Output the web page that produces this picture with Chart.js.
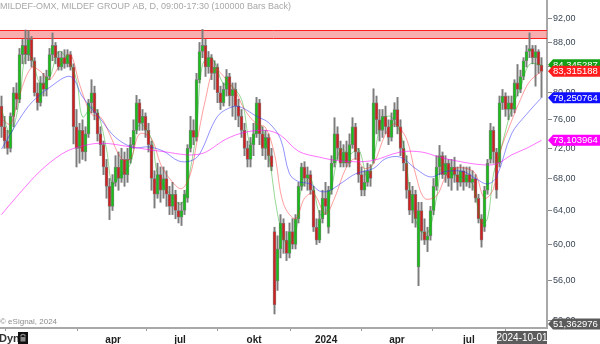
<!DOCTYPE html>
<html><head><meta charset="utf-8">
<script src="https://cdn.jsdelivr.net/npm/chart.js@4.4.1/dist/chart.umd.min.js"></script>
<style>html,body{margin:0;padding:0;background:#fff;}#wrap{position:relative;width:600px;height:344px;}</style>
</head><body><div id="wrap"><canvas id="c" width="600" height="344"></canvas></div>
<script>
// ---- data (bar index = trading period, left to right) ----
const opens = [78,75,73,72,76.5,80,79,86,87.5,86,88.5,85,80,78.5,81.5,80.5,82.5,86,87.5,85.5,84,85.5,84.5,86,84,75,72,74.5,71.5,74,78.5,80,77,74,72.5,69.5,67,64.5,67.5,69.5,68,70.5,68.5,70.5,72.5,74.5,78.5,75.5,76.5,74.5,72.5,68,66,68.5,66.5,68,66,64.5,66,64,63.2,64,65.5,72,74.5,73.5,82,86.5,87.5,84,85.5,83,84,80,78.5,80.5,82.5,79.5,80.5,78,76.5,74.5,72,70.5,72.5,74,78.5,74,72,73.5,71,61.5,56,59.5,62.5,60.5,59,61.5,60,63,67,69.5,68,68.5,66.5,62,60.5,63,65.5,62,66.5,70,74,72,70,71.5,70,72.5,75,71.5,68.5,66.5,67.5,69,70.5,78.5,76,74.5,76.5,75,73.5,76,77.5,75,72,70,66.5,64,66,57.5,64,61.5,60.5,61,64,67,69.5,71,68.5,70,68,69.5,68.5,67.5,69,67.5,68.5,67.5,68,65.5,63,62,66.5,70.5,74.5,71.5,70,78.5,79.5,77.5,78.5,77.5,81.5,80.5,82.5,85,86.5,87,85.5,86.5,84.3];
const highs = [79.5,76.5,74.5,77,80.8,81.5,87,88.5,90.1,90,89,85.5,81.5,82.5,83,83.5,87,89.6,88,86.5,86.5,86.8,86.8,86.5,84.5,77.5,75.5,76,75,79,82,81,77.5,75,73,70.5,68,68.5,71,71.5,72,71.5,72,73.5,76,79.6,79,77.5,77,75.5,73,69,70,69.5,69.5,69,67,67.5,66.5,65,65,66.5,72.5,76.5,76,83,88,90.2,88.5,86.5,86,85,84.5,81,81.5,83.6,83,81.5,81.5,79,77.5,75.5,73,73.5,75.5,79.3,79,75,74.5,74,72,62,61,63.5,63,61.5,62.5,63,63.5,67.5,70,70.2,69.5,69,67,63,64,66.5,67.5,67,71,76.3,75,73,72.5,73,74,76.3,75.5,72,69.5,69,70,69.8,80.6,79.5,77.5,77.5,78,76,77,78.5,79.3,76,73,71,67.5,67,66.5,65,65,63,62,64.5,68,71,72.4,71.5,71,70.5,70.5,70.8,69.5,69.8,69.5,69.5,69.5,69,68.5,66,63.5,67,70.5,75.5,75,72,79.5,80.5,80,79.5,79.5,82,84.4,83.5,85.5,87.5,89.6,87.5,87.5,86.8,85.5];
const lows = [73.5,72,71.2,71.5,75,77.5,78.5,84.5,84.5,85,84,79.5,77.4,78,79.5,79.5,82,85,84.5,83.5,83.5,83.8,84,83.5,72.6,69.5,70,70.5,70.3,73.5,77,76,73,71,68.5,65.5,62.9,64,67,66.5,67.5,67,67.5,70,72,74,74.5,74.5,73.5,71.5,66.5,64.3,65.5,65,65.5,64.5,63.5,63.5,63,62.5,62.2,63.5,65,71.5,72.5,73,81.5,85.5,82.5,83,82,80.5,78.5,77.5,78,79.5,78,76.5,76,75,73.5,71,69.5,69.5,71,73.5,72.5,71,70.5,69.5,69,52.6,55,58.5,59,58.2,58.5,59.5,59.5,62.5,66.5,67,66.5,66,61.5,60,60.2,62.5,63.5,61.3,66,69.5,70.5,69.5,69.5,69.5,69.5,72,70.5,67.5,65.8,65.8,67,67,70,74,73,73.5,74,72.5,73,75,74,71,69,65.5,63.5,62.5,62,55.5,60.5,60,59.2,60.5,63.5,66.5,68.5,68,67.5,67,66.5,67.5,66.5,67,66.5,67,66.8,66.5,65,62.5,59.7,61.5,66,70,70,65.5,69.5,77.5,76.5,76,76.5,77,79.5,80,82,84,85.5,84.5,81,83,79.3];
const closes = [75,73,72,76.5,80,79,86,87.5,86,88.5,85,80,78.5,81.5,80.5,82.5,86,87.5,85.5,84,85.5,84.5,86,84,75,72,74.5,71.5,74,78.5,80,77,74,72.5,69.5,67,64.5,67.5,69.5,68,70.5,68.5,70.5,72.5,74.5,78.5,75.5,76.5,74.5,72.5,68,66,68.5,66.5,68,66,64.5,66,64,63.2,64,66,72,74.5,73.5,82,86.5,87.5,84,85.5,83,84,80,78.5,80.5,82.5,79.5,80.5,78,76.5,74.5,72,70.5,72.5,74,78.5,74,72,73.5,71,69.5,53.5,59.5,62.5,60.5,59,61.5,60,63,67,69.5,68,68.5,66.5,62,60.5,63,65.5,64.5,66.5,70,74,72,70,71.5,70,72.5,75,71.5,68.5,66.5,67.5,69,68,78.5,76,74.5,76.5,75,73.5,76,77.5,75,72,70,66.5,64,66,63,64,61.5,60.5,61,64,67,69.5,71,68.5,70,68,69.5,68.5,67.5,69,67.5,68.5,67.5,68,65.5,63,60.5,66.5,70,74.5,71.5,66.5,78.5,79.5,77.5,78.5,77.5,81.5,80.5,82.5,85,86.5,87,85.5,86.5,84.3,83.3];

// moving averages: [bar index, value]
const maGreen = [[0,77.5],[3,74.0],[6,79.0],[8,86.0],[10,85.5],[13,81.3],[16,82.3],[19,86.5],[22,85.2],[25,82.0],[27,76.4],[30,77.8],[32,77.2],[35,71.9],[37,67.3],[40,68.6],[43,69.9],[46,75.4],[50,73.3],[52,68.6],[56,66.1],[60,64.8],[63,69.3],[65,74.7],[67,84.4],[70,85.5],[74,81.3],[76,81.3],[80,79.0],[83,72.6],[86,75.4],[89,71.2],[92,63.6],[95,60.1],[98,61.3],[100,66.7],[103,68.0],[106,63.6],[108,63.6],[110,66.7],[113,71.9],[116,71.2],[119,71.9],[122,68.0],[124,70.6],[127,76.1],[130,76.4],[134,72.6],[136,66.7],[139,61.9],[142,61.3],[145,65.5],[147,69.9],[150,68.6],[154,68.0],[157,67.3],[160,62.5],[162,63.0],[164,68.6],[166,71.2],[170,77.5],[173,80.8],[176,84.4],[180,84.345287]];
const maRed = [[0,76.1],[3,75.4],[6,79.7],[10,83.9],[13,83.3],[16,82.0],[20,84.8],[23,86.0],[26,81.3],[30,76.8],[33,76.4],[36,74.0],[40,70.6],[43,70.6],[46,74.0],[50,73.3],[53,69.9],[56,68.0],[60,66.7],[63,68.6],[65,72.6],[68,79.0],[71,83.6],[75,82.0],[78,80.2],[81,77.5],[85,75.4],[88,74.9],[91,71.2],[94,64.8],[98,63.0],[101,65.5],[104,66.1],[108,63.6],[111,65.5],[115,69.5],[118,70.6],[121,69.3],[124,69.9],[128,74.0],[131,75.4],[135,73.3],[138,68.6],[141,65.5],[145,65.8],[148,68.2],[151,69.3],[155,69.3],[158,68.6],[161,65.5],[164,66.7],[166,71.2],[170,75.8],[173,79.0],[176,81.7],[180,83.315188]];
const maBlue = [[0,71.9],[6,76.1],[10,78.5],[16,80.8],[23,82.5],[27,79.4],[33,76.1],[38,73.5],[44,72.1],[49,72.2],[54,71.6],[59,70.3],[63,70.3],[66,71.2],[72,76.5],[77,77.9],[80,77.8],[85,76.5],[89,75.6],[93,73.3],[96,68.6],[99,67.6],[103,67.3],[106,66.4],[109,66.4],[114,67.6],[118,68.6],[124,69.3],[128,70.6],[133,70.8],[138,69.3],[143,68.2],[148,68.9],[154,68.9],[158,68.0],[162,67.3],[165,68.2],[170,74.0],[175,76.8],[180,79.250764]];
const maMagenta = [[0,63.5],[6,66.1],[13,69.0],[20,71.2],[25,72.1],[33,72.7],[43,72.2],[53,71.6],[66,71.2],[75,73.3],[81,74.2],[88,74.5],[93,73.8],[99,71.6],[106,70.8],[113,70.3],[123,70.3],[133,71.5],[140,71.5],[146,70.8],[153,70.2],[160,69.8],[165,69.9],[170,71.1],[175,72.0],[180,73.103964]];

const zone = [88.7, 90.1];                       // resistance band
const yTickValues = [52,56,60,64,68,72,76,80,84,88,92];
const xTickIndex = [13.2, 37.2, 59.5, 84.2, 108.2, 131.8, 155.8, 180.2];
const xTickLabels = ['', 'apr', 'jul', 'okt', '2024', 'apr', 'jul', ''];
const tagValues = [73.103964, 79.250764, 84.345287, 83.315188, 51.362976];
const lastDate = '2024-10-01';
const titleText = 'MILDEF-OMX, MILDEF GROUP AB, D, 09:00-17:30 (100000 Bars Back)';

// ---- styles ----
const tagColors = ['#ff00ff', '#1010ff', '#14a014', '#ff1c1c', '#5a5a5a'];
const upColor = '#18c018', downColor = '#d22020', wickColor = '#7c7c7c';

const fmt = (v, d) => v.toFixed(d).replace('.', ',');
const idx = closes.map((_, i) => i);
const toXY = arr => arr.map(p => ({x: p[0], y: p[1]}));

const overlay = {
  id: 'overlay',
  beforeDatasetsDraw(chart) {
    const {ctx, chartArea: a, scales: {y}} = chart;
    const yTop = y.getPixelForValue(zone[1]), yBot = y.getPixelForValue(zone[0]);
    ctx.save();
    ctx.fillStyle = 'rgba(244,120,120,0.6)';
    ctx.fillRect(a.left, yTop, a.right - a.left, yBot - yTop);
    ctx.strokeStyle = '#ff2020'; ctx.lineWidth = 1;
    ctx.beginPath();
    ctx.moveTo(a.left, Math.round(yTop) + 0.5); ctx.lineTo(a.right, Math.round(yTop) + 0.5);
    ctx.moveTo(a.left, Math.round(yBot) + 0.5); ctx.lineTo(a.right, Math.round(yBot) + 0.5);
    ctx.stroke();
    ctx.restore();
  },
  afterDraw(chart) {
    const {ctx, chartArea: a, scales: {y}} = chart;
    ctx.save();
    // title
    ctx.font = '9px Arial, "Liberation Sans", sans-serif';
    ctx.fillStyle = '#a8a8a8'; ctx.textBaseline = 'middle'; ctx.textAlign = 'left';
    ctx.fillText(titleText, 0, 7);
    // copyright
    ctx.font = '8px Arial, "Liberation Sans", sans-serif';
    ctx.fillStyle = '#8c8c8c';
    ctx.fillText('\u00a9 eSignal, 2024', 0, 321.5);
    // Dyn
    ctx.font = 'bold 11px Arial, "Liberation Sans", sans-serif';
    ctx.fillStyle = '#333';
    ctx.fillText('Dyn', -1, 339);
    // lock icon
    ctx.fillStyle = '#111'; ctx.fillRect(18, 332, 10, 12);
    ctx.strokeStyle = '#888'; ctx.lineWidth = 1.2;
    ctx.beginPath(); ctx.arc(23, 336.5, 2.2, Math.PI, 0); ctx.stroke();
    ctx.fillStyle = '#888'; ctx.fillRect(20.5, 337, 5, 4.5);
    // value tags
    ctx.font = '9.5px Arial, "Liberation Sans", sans-serif';
    tagValues.forEach((v, k) => {
      let cy = y.getPixelForValue(v);
      cy = Math.min(Math.max(cy, a.top + 6), a.bottom - 4);
      ctx.fillStyle = tagColors[k];
      ctx.beginPath();
      ctx.moveTo(a.right + 1, cy);
      ctx.lineTo(a.right + 6, cy - 5.5);
      ctx.lineTo(600, cy - 5.5);
      ctx.lineTo(600, cy + 5.5);
      ctx.lineTo(a.right + 6, cy + 5.5);
      ctx.closePath(); ctx.fill();
      ctx.fillStyle = '#fff'; ctx.textAlign = 'left'; ctx.textBaseline = 'middle';
      ctx.fillText(fmt(v, 6), a.right + 6, cy + 0.5);
    });
    // last date box
    ctx.fillStyle = '#5c5c5c';
    ctx.fillRect(a.right - 50, 331, 50, 13);
    ctx.fillStyle = '#fff'; ctx.font = '10px Arial, "Liberation Sans", sans-serif';
    ctx.textAlign = 'center'; ctx.textBaseline = 'middle';
    ctx.fillText(lastDate, a.right - 25, 338.5);
    ctx.restore();
  }
};

new Chart(document.getElementById('c'), {
  type: 'bar',
  data: {
    datasets: [
      {type: 'line', data: toXY(maMagenta), borderColor: 'rgba(255,0,255,0.55)', borderWidth: 1, pointRadius: 0, tension: 0.35, order: 0},
      {type: 'line', data: toXY(maBlue), borderColor: 'rgba(40,40,255,0.5)', borderWidth: 1, pointRadius: 0, tension: 0.35, order: 0},
      {type: 'line', data: toXY(maRed), borderColor: 'rgba(255,40,40,0.45)', borderWidth: 1, pointRadius: 0, tension: 0.35, order: 0},
      {type: 'line', data: toXY(maGreen), borderColor: 'rgba(20,170,20,0.45)', borderWidth: 1, pointRadius: 0, tension: 0.35, order: 0},
      {data: idx.map(i => ({x: i, y: [opens[i], closes[i]]})), grouped: false, barThickness: 3,
       backgroundColor: c => closes[c.dataIndex] >= opens[c.dataIndex] ? upColor : downColor,
       borderColor: wickColor, borderWidth: 0.8, borderSkipped: false, order: 1},
      {data: idx.map(i => ({x: i, y: [lows[i], highs[i]]})), grouped: false, barThickness: 1.3,
       backgroundColor: wickColor, order: 2}
    ]
  },
  options: {
    responsive: false, animation: false, events: [], devicePixelRatio: 1,
    layout: {padding: 0},
    plugins: {legend: {display: false}, tooltip: {enabled: false}},
    scales: {
      x: {
        type: 'linear', min: -0.5, max: 181.83, offset: false,
        afterBuildTicks: s => { s.ticks = xTickIndex.map(v => ({value: v})); },
        afterFit: s => { s.height = 16; s.paddingLeft = 0; s.paddingRight = 0; },
        ticks: {autoSkip: false, maxRotation: 0, padding: 3, color: '#1e1e1e',
                font: {family: 'Arial', size: 10, weight: 'bold'},
                callback: (v, i) => xTickLabels[i]},
        grid: {drawOnChartArea: false, drawTicks: true, tickLength: 3, color: '#9a9a9a'},
        border: {display: true, color: '#a8a8a8', width: 2}
      },
      y: {
        type: 'logarithmic', position: 'right', min: 51.22, max: 95.37,
        afterBuildTicks: s => { s.ticks = yTickValues.map(v => ({value: v})); },
        afterFit: s => { s.width = 53; s.paddingTop = 0; s.paddingBottom = 0; },
        ticks: {padding: 1, color: '#3a4656', font: {family: 'Arial', size: 9},
                callback: v => fmt(v, 2)},
        grid: {drawOnChartArea: false, drawTicks: true, tickLength: 5, color: '#8a8a8a'},
        border: {display: true, color: '#a8a8a8', width: 2}
      }
    }
  },
  plugins: [overlay]
});
</script>
</body></html>
